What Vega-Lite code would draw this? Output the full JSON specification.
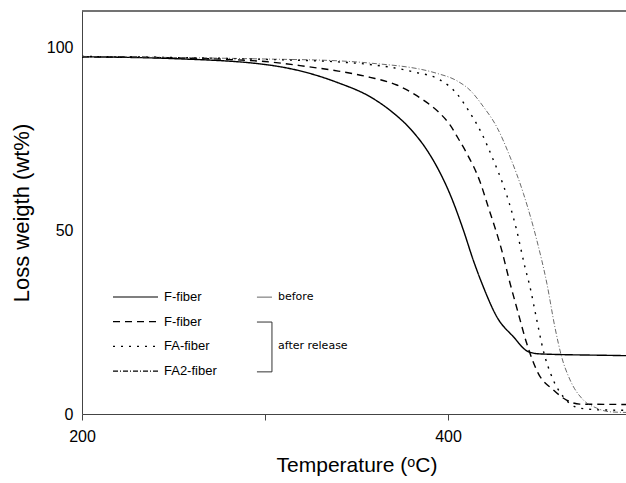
{
  "$schema": "https://vega.github.io/schema/vega-lite/v6.json",
  "width": 549,
  "height": 403,
  "autosize": {"type": "none"},
  "padding": {"left": 82, "top": 11, "right": 0, "bottom": 69},
  "background": "white",
  "config": {
    "view": {"stroke": null},
    "font": "Liberation Sans",
    "axis": {"labelFont": "Liberation Sans", "titleFont": "Liberation Sans", "labelColor": "black", "titleColor": "black", "titleFontWeight": "normal", "grid": false, "domainColor": "#444", "tickColor": "#444", "labelFlush": false}
  },
  "data": {
    "values": [
      {"series": "F-fiber before", "T": 200, "W": 97.5},
      {"series": "F-fiber before", "T": 250, "W": 97.0},
      {"series": "F-fiber before", "T": 300, "W": 95.4},
      {"series": "F-fiber before", "T": 322, "W": 93.3},
      {"series": "F-fiber before", "T": 340, "W": 90.4},
      {"series": "F-fiber before", "T": 357.4, "W": 86.6},
      {"series": "F-fiber before", "T": 368.3, "W": 82.9},
      {"series": "F-fiber before", "T": 380.2, "W": 77.4},
      {"series": "F-fiber before", "T": 388.4, "W": 72.1},
      {"series": "F-fiber before", "T": 395.6, "W": 65.9},
      {"series": "F-fiber before", "T": 401.1, "W": 60.0},
      {"series": "F-fiber before", "T": 408.4, "W": 50.2},
      {"series": "F-fiber before", "T": 413.8, "W": 42.0},
      {"series": "F-fiber before", "T": 419.3, "W": 34.7},
      {"series": "F-fiber before", "T": 426.6, "W": 26.6},
      {"series": "F-fiber before", "T": 435.7, "W": 21.1},
      {"series": "F-fiber before", "T": 443.9, "W": 17.0},
      {"series": "F-fiber before", "T": 450.3, "W": 16.4},
      {"series": "F-fiber before", "T": 488.5, "W": 16.0},
      {"series": "F-fiber before", "T": 500, "W": 15.9},
      {"series": "F-fiber", "T": 200, "W": 97.5},
      {"series": "F-fiber", "T": 250, "W": 97.2},
      {"series": "F-fiber", "T": 300, "W": 96.2},
      {"series": "F-fiber", "T": 322, "W": 94.9},
      {"series": "F-fiber", "T": 340, "W": 93.6},
      {"series": "F-fiber", "T": 357.4, "W": 91.9},
      {"series": "F-fiber", "T": 372, "W": 89.8},
      {"series": "F-fiber", "T": 386.5, "W": 85.7},
      {"series": "F-fiber", "T": 394.7, "W": 82.5},
      {"series": "F-fiber", "T": 401.1, "W": 78.9},
      {"series": "F-fiber", "T": 405.6, "W": 75.2},
      {"series": "F-fiber", "T": 410.2, "W": 71.2},
      {"series": "F-fiber", "T": 417.5, "W": 63.4},
      {"series": "F-fiber", "T": 422, "W": 56.5},
      {"series": "F-fiber", "T": 429.3, "W": 44.8},
      {"series": "F-fiber", "T": 433.9, "W": 35.7},
      {"series": "F-fiber", "T": 438.4, "W": 27.5},
      {"series": "F-fiber", "T": 443, "W": 19.3},
      {"series": "F-fiber", "T": 449.3, "W": 11.1},
      {"series": "F-fiber", "T": 457.5, "W": 6.6},
      {"series": "F-fiber", "T": 464.8, "W": 3.8},
      {"series": "F-fiber", "T": 472, "W": 2.7},
      {"series": "F-fiber", "T": 500, "W": 2.6},
      {"series": "FA-fiber", "T": 200, "W": 97.6},
      {"series": "FA-fiber", "T": 250, "W": 97.3},
      {"series": "FA-fiber", "T": 300, "W": 96.8},
      {"series": "FA-fiber", "T": 340, "W": 96.1},
      {"series": "FA-fiber", "T": 357.4, "W": 95.4},
      {"series": "FA-fiber", "T": 381, "W": 93.4},
      {"series": "FA-fiber", "T": 395.6, "W": 91.2},
      {"series": "FA-fiber", "T": 404.7, "W": 87.5},
      {"series": "FA-fiber", "T": 411, "W": 83.0},
      {"series": "FA-fiber", "T": 418.4, "W": 76.6},
      {"series": "FA-fiber", "T": 424.8, "W": 69.3},
      {"series": "FA-fiber", "T": 430.2, "W": 62.5},
      {"series": "FA-fiber", "T": 433.5, "W": 57.5},
      {"series": "FA-fiber", "T": 437.5, "W": 50.2},
      {"series": "FA-fiber", "T": 442, "W": 40.2},
      {"series": "FA-fiber", "T": 444.8, "W": 34.7},
      {"series": "FA-fiber", "T": 448.5, "W": 25.7},
      {"series": "FA-fiber", "T": 452, "W": 17.5},
      {"series": "FA-fiber", "T": 457.5, "W": 9.3},
      {"series": "FA-fiber", "T": 463, "W": 4.7},
      {"series": "FA-fiber", "T": 472, "W": 1.6},
      {"series": "FA-fiber", "T": 485, "W": 1.1},
      {"series": "FA-fiber", "T": 500, "W": 1.0},
      {"series": "FA2-fiber", "T": 200, "W": 97.6},
      {"series": "FA2-fiber", "T": 250, "W": 97.3},
      {"series": "FA2-fiber", "T": 300, "W": 96.9},
      {"series": "FA2-fiber", "T": 340, "W": 96.4},
      {"series": "FA2-fiber", "T": 357, "W": 95.8},
      {"series": "FA2-fiber", "T": 393.8, "W": 93.0},
      {"series": "FA2-fiber", "T": 404.7, "W": 91.0},
      {"series": "FA2-fiber", "T": 412, "W": 88.4},
      {"series": "FA2-fiber", "T": 419.3, "W": 83.9},
      {"series": "FA2-fiber", "T": 426.6, "W": 78.4},
      {"series": "FA2-fiber", "T": 433.9, "W": 70.2},
      {"series": "FA2-fiber", "T": 441.2, "W": 60.2},
      {"series": "FA2-fiber", "T": 448.5, "W": 47.5},
      {"series": "FA2-fiber", "T": 454, "W": 35.7},
      {"series": "FA2-fiber", "T": 458.5, "W": 23.5},
      {"series": "FA2-fiber", "T": 462.1, "W": 15.6},
      {"series": "FA2-fiber", "T": 466.7, "W": 9.3},
      {"series": "FA2-fiber", "T": 474, "W": 3.8},
      {"series": "FA2-fiber", "T": 481.3, "W": 1.6},
      {"series": "FA2-fiber", "T": 488.5, "W": 0.6},
      {"series": "FA2-fiber", "T": 500, "W": 0.4}
    ]
  },
  "layer": [
    {
      "mark": {"type": "line", "clip": true, "interpolate": "monotone"},
      "encoding": {
        "x": {"field": "T", "type": "quantitative", "scale": {"domain": [200, 500], "nice": false}, "axis": {"values": [200, 300, 400], "labelExpr": "datum.value == 300 ? '' : datum.label", "title": "Temperature (ᵒC)", "titleFontSize": 21, "labelFontSize": 16, "tickSize": 6, "labelPadding": 8, "titlePadding": 10}},
        "y": {"field": "W", "type": "quantitative", "scale": {"domain": [0, 110], "nice": false}, "axis": {"values": [0, 50, 100], "title": "Loss weigth (wt%)", "titleFontSize": 22, "labelFontSize": 16, "ticks": false, "labelPadding": 9, "titlePadding": 13}},
        "strokeDash": {"field": "series", "type": "nominal", "scale": {"domain": ["F-fiber before", "F-fiber", "FA-fiber", "FA2-fiber"], "range": [[1, 0], [7, 5], [2, 6], [5, 2, 1, 2]]}, "legend": {"title": null, "orient": "none", "legendX": 30, "legendY": 279, "symbolType": "stroke", "symbolSize": 2025, "clipHeight": 14, "symbolStrokeWidth": 1.2, "symbolStrokeColor": "black", "labelFont": "Liberation Sans", "labelFontSize": 13, "labelColor": "black", "labelOffset": 5, "rowPadding": 10.7, "labelExpr": "replace(datum.label, ' before', '')"}},
        "color": {"condition": {"test": "datum.series == 'FA2-fiber'", "value": "#444444"}, "value": "#000000"},
        "strokeWidth": {"condition": {"test": "datum.series == 'FA2-fiber'", "value": 0.8}, "value": 1.4}
      }
    },
    {
      "data": {"values": [{}]},
      "mark": {"type": "rule", "color": "#444", "strokeWidth": 1.5},
      "encoding": {"y": {"datum": 110}}
    },
    {
      "data": {"values": [{}]},
      "mark": {"type": "rule", "color": "#666", "strokeWidth": 1},
      "encoding": {"x": {"datum": 295.6}, "x2": {"datum": 303.8}, "y": {"datum": 31.9}}
    },
    {
      "data": {"values": [{}]},
      "mark": {"type": "rule", "color": "#333", "strokeWidth": 1},
      "encoding": {"x": {"datum": 295.6}, "x2": {"datum": 303.8}, "y": {"datum": 25.1}}
    },
    {
      "data": {"values": [{}]},
      "mark": {"type": "rule", "color": "#333", "strokeWidth": 1},
      "encoding": {"x": {"datum": 295.6}, "x2": {"datum": 303.8}, "y": {"datum": 11.5}}
    },
    {
      "data": {"values": [{}]},
      "mark": {"type": "rule", "color": "#333", "strokeWidth": 1},
      "encoding": {"x": {"datum": 303.8}, "y": {"datum": 25.1}, "y2": {"datum": 11.5}}
    },
    {
      "data": {"values": [{}]},
      "mark": {"type": "text", "align": "left", "baseline": "middle", "font": "DejaVu Sans", "fontSize": 11, "color": "black"},
      "encoding": {"x": {"datum": 307.1}, "y": {"datum": 31.9}, "text": {"value": "before"}}
    },
    {
      "data": {"values": [{}]},
      "mark": {"type": "text", "align": "left", "baseline": "middle", "font": "DejaVu Sans", "fontSize": 11, "color": "black"},
      "encoding": {"x": {"datum": 307.1}, "y": {"datum": 18.6}, "text": {"value": "after release"}}
    }
  ]
}
